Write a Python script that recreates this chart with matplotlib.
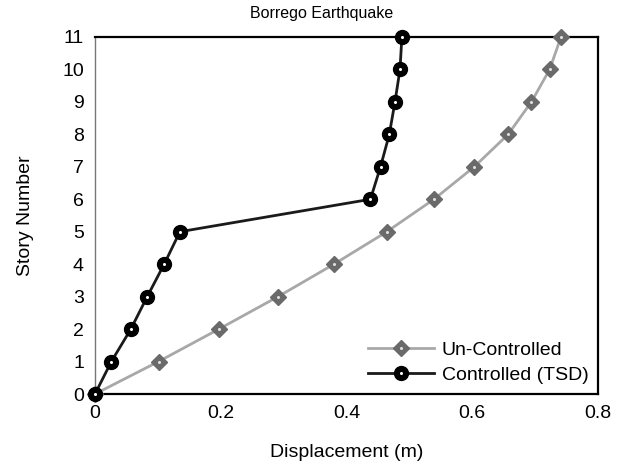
import matplotlib
matplotlib.use("Agg")
import matplotlib.pyplot as plt

plt.rcParams["font.family"] = ["Liberation Sans", "DejaVu Sans"]

stories = [0, 1, 2, 3, 4, 5, 6, 7, 8, 9, 10, 11]
uncontrolled = [0, 0.101, 0.197, 0.291, 0.380, 0.464, 0.539, 0.603, 0.657, 0.694, 0.723, 0.741]
controlled = [0, 0.026, 0.057, 0.083, 0.110, 0.135, 0.438, 0.454, 0.468, 0.477, 0.485, 0.488]

fig = plt.figure(figsize=(6.23, 4.67), dpi=100)
ax = fig.add_axes([0.1525, 0.1563, 0.8075, 0.7645])

# un-controlled: light line, dark grey diamonds with a pale centre
l1, = ax.plot(uncontrolled, stories, color="#a8a8a8", lw=2, marker="D", ms=8,
              mfc="#6a6a6a", mec="#6a6a6a", mew=1, clip_on=False, zorder=3)
d1, = ax.plot(uncontrolled, stories, ls="none", marker="o", ms=2.2,
              mfc="#e0e0e0", mec="none", clip_on=False, zorder=3.5)
# controlled: black line, black circles with a white centre dot
l2, = ax.plot(controlled, stories, color="#1a1a1a", lw=2, marker="o", ms=10,
              mfc="black", mec="black", clip_on=False, zorder=4)
d2, = ax.plot(controlled, stories, ls="none", marker="o", ms=2.2,
              mfc="white", mec="none", clip_on=False, zorder=4.5)

ax.set_xlim(0, 0.8)
ax.set_ylim(0, 11)
ax.set_xticks([0, 0.2, 0.4, 0.6, 0.8])
ax.set_xticklabels(["0", "0.2", "0.4", "0.6", "0.8"])
ax.set_yticks(range(0, 12))
ax.tick_params(length=0, labelsize=14, pad=8)

for s in ["top", "right", "bottom"]:
    ax.spines[s].set_linewidth(1.6)
    ax.spines[s].set_color("black")
ax.spines["left"].set_linewidth(1.0)
ax.spines["left"].set_color("#777777")

ax.set_title("Borrego Earthquake", fontsize=11.5, pad=14, x=0.451)
ax.set_xlabel("Displacement (m)", fontsize=14, labelpad=16)
ax.set_ylabel("Story Number", fontsize=14, labelpad=20)

ax.legend([(l1, d1), (l2, d2)], ["Un-Controlled", "Controlled (TSD)"],
          loc="lower right", frameon=False, fontsize=14, handlelength=3.4,
          handletextpad=0.4, borderaxespad=0.1, labelspacing=0.4)

plt.savefig("out.png", dpi=100)
plt.close(fig)
